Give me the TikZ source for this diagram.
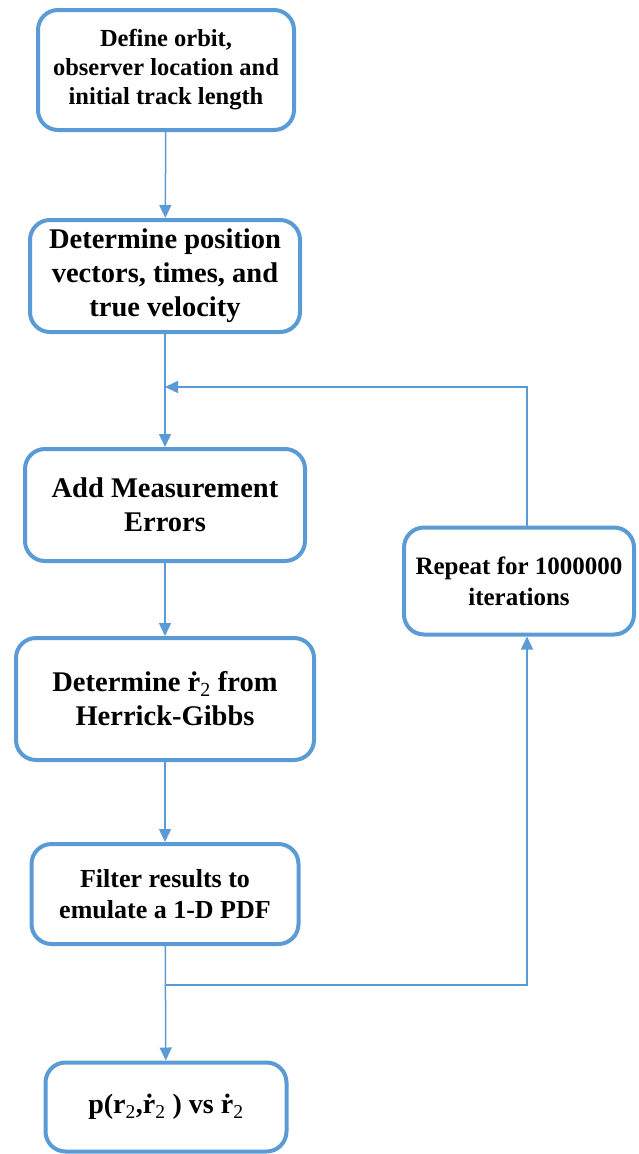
\documentclass[tikz,border=0pt]{standalone}
\usepackage{fontspec}
\setmainfont{Liberation Serif}
\usetikzlibrary{arrows.meta}
\definecolor{flowblue}{RGB}{91,155,213}
\newcommand{\rdot}{\.{r}}
\newcommand{\subtwo}{{\mdseries\textsubscript{2}}}

\begin{document}
\begin{tikzpicture}[x=1pt, y=-1pt,
        stage/.style={draw=flowblue, line width=4pt, rounded corners=20pt, align=center, inner sep=0pt, fill=white},
        flow/.style={flowblue, line width=1.5pt, -{Triangle[length=13pt, width=12pt]}}]
                \useasboundingbox (0,0) rectangle (638,1154);

                \node[stage, minimum width=256pt, minimum height=120pt, font=\fontsize{24.5}{29}\selectfont\bfseries] (define) at (166,70) {Define orbit,\\observer location and\\initial track length};
                \node[stage, minimum width=270pt, minimum height=112pt, font=\fontsize{28.5}{34}\selectfont\bfseries] (position) at (165,276) {Determine position\\vectors, times, and\\true velocity};
                \node[stage, minimum width=280pt, minimum height=112pt, font=\fontsize{28.5}{34}\selectfont\bfseries] (errors) at (165,505) {Add Measurement\\Errors};
                \node[stage, minimum width=298pt, minimum height=122pt, font=\fontsize{28.5}{34}\selectfont\bfseries] (herrick) at (165,699) {Determine \rdot\subtwo{} from\\Herrick-Gibbs};
                \node[stage, minimum width=267pt, minimum height=100pt, font=\fontsize{26}{31}\selectfont\bfseries] (filter) at (165,894) {Filter results to\\emulate a 1-D PDF};
                \node[stage, minimum width=241pt, minimum height=89pt, font=\fontsize{28}{34}\selectfont\bfseries] (pdf) at (166,1107) {p(r\subtwo,\rdot\subtwo{} ) vs \rdot\subtwo};
                \node[stage, minimum width=230pt, minimum height=107pt, font=\fontsize{25}{31}\selectfont\bfseries] (repeat) at (519,581) {Repeat for 1000000\\iterations};

                \path (527,985) coordinate (loopdown);
                \path (527,387) coordinate (loopup);

                \draw[flow] (define) -- (position);
                \draw[flow] (position) -- (errors);
                \draw[flow] (errors) -- (herrick);
                \draw[flow] (herrick) -- (filter);
                \draw[flow] (filter) -- (pdf);

                \draw[flow] (filter.south |- loopdown) -- (loopdown) -- (loopdown |- repeat.south);
                \draw[flow] (loopup |- repeat.north) -- (loopup) -- (loopup -| position.south);
            \end{tikzpicture}
\end{document}
